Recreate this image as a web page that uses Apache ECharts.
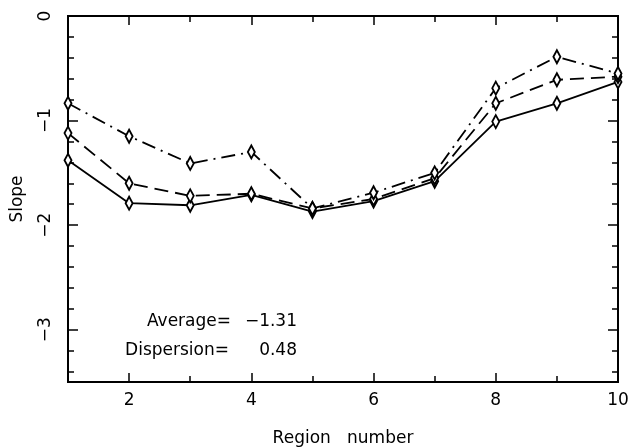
<!DOCTYPE html>
<html>
<head>
<meta charset="utf-8">
<script src="https://cdn.jsdelivr.net/npm/echarts@6/dist/echarts.min.js"></script>
<style>
  html, body { margin: 0; padding: 0; background: #fff; }
  #chart { width: 631px; height: 448px; }
</style>
</head>
<body>
<div id="chart"></div>
<script>
// data
const regions = [1, 2, 3, 4, 5, 6, 7, 8, 9, 10];
const solidSlope = [-1.38, -1.79, -1.81, -1.71, -1.87, -1.77, -1.58, -1.01, -0.835, -0.63];
const dashedSlope = [-1.12, -1.6, -1.72, -1.70, -1.84, -1.75, -1.55, -0.835, -0.61, -0.58];
const dashDotSlope = [-0.835, -1.15, -1.41, -1.30, -1.84, -1.69, -1.50, -0.69, -0.39, -0.55];

const xMajorTicks = [2, 4, 6, 8, 10];
const xMinorTicks = [3, 5, 7, 9];
const yMajorTicks = [0, -1, -2, -3];
const yMinorTicks = [-0.2, -0.4, -0.6, -0.8, -1.2, -1.4, -1.6, -1.8, -2.2, -2.4, -2.6, -2.8, -3.2, -3.4];

const averageText = '\u22121.31';
const dispersionText = '0.48';

const font = 'DejaVu Sans';
const black = '#000';

function axisBase(extra) {
    return Object.assign({
        type: 'value',
        axisLine: { show: true, onZero: false, lineStyle: { color: black, width: 2 } },
        splitLine: { show: false },
        axisLabel: { show: false },
        axisTick: { show: true, inside: true, lineStyle: { color: black, width: 1.5 } }
    }, extra);
}

function xAxis(position, ticks, len, labels) {
    const ax = axisBase({ position: position, min: 1, max: 10 });
    ax.axisTick.customValues = ticks;
    ax.axisTick.length = len;
    if (labels) {
        ax.axisLabel = { show: true, customValues: ticks, color: black, fontFamily: font, fontSize: 17, margin: 10 };
        ax.name = 'Region   number';
        ax.nameLocation = 'middle';
        ax.nameGap = 48;
        ax.nameTextStyle = { color: black, fontFamily: font, fontSize: 17 };
    }
    return ax;
}

function yAxis(position, ticks, len, labels) {
    const ax = axisBase({ position: position, min: -3.5, max: 0 });
    ax.axisTick.customValues = ticks;
    ax.axisTick.length = len;
    if (labels) {
        ax.axisLabel = {
            show: true, customValues: ticks, color: black, fontFamily: font, fontSize: 17,
            rotate: 90, margin: 14,
            formatter: v => String(v).replace('-', '\u2212')
        };
        ax.name = 'Slope';
        ax.nameLocation = 'middle';
        ax.nameGap = 42;
        ax.nameTextStyle = { color: black, fontFamily: font, fontSize: 17 };
    }
    return ax;
}

function lineSeries(data, dash) {
    return {
        type: 'line',
        data: regions.map((r, i) => [r, data[i]]),
        symbol: 'emptyDiamond',
        symbolSize: [7, 13],
        showSymbol: true,
        lineStyle: { color: black, width: 1.8, type: dash },
        itemStyle: { color: black, borderColor: black, borderWidth: 0.8 },
        clip: false,
        z: 3
    };
}

const chart = echarts.init(document.getElementById('chart'));
chart.setOption({
    animation: false,
    backgroundColor: '#fff',
    grid: { left: 68, top: 16, right: 13, bottom: 66, outerBoundsMode: 'none', containLabel: false },
    xAxis: [
        xAxis('bottom', xMajorTicks, 9, true),
        xAxis('bottom', xMinorTicks, 6, false),
        xAxis('top', xMajorTicks, 9, false),
        xAxis('top', xMinorTicks, 6, false)
    ],
    yAxis: [
        yAxis('left', yMajorTicks, 10, true),
        yAxis('left', yMinorTicks, 6, false),
        yAxis('right', yMajorTicks, 10, false),
        yAxis('right', yMinorTicks, 6, false)
    ],
    series: [
        lineSeries(solidSlope, 'solid'),
        lineSeries(dashedSlope, [14, 7]),
        lineSeries(dashDotSlope, [14, 6, 2, 6])
    ],
    graphic: [
        { type: 'text', x: 231, y: 322, style: { text: 'Average=', font: '17px "DejaVu Sans"', fill: black, align: 'right', verticalAlign: 'middle' } },
        { type: 'text', x: 297, y: 322, style: { text: averageText, font: '17px "DejaVu Sans"', fill: black, align: 'right', verticalAlign: 'middle' } },
        { type: 'text', x: 229, y: 351, style: { text: 'Dispersion=', font: '17px "DejaVu Sans"', fill: black, align: 'right', verticalAlign: 'middle' } },
        { type: 'text', x: 297, y: 351, style: { text: dispersionText, font: '17px "DejaVu Sans"', fill: black, align: 'right', verticalAlign: 'middle' } }
    ]
});
</script>
</body>
</html>
